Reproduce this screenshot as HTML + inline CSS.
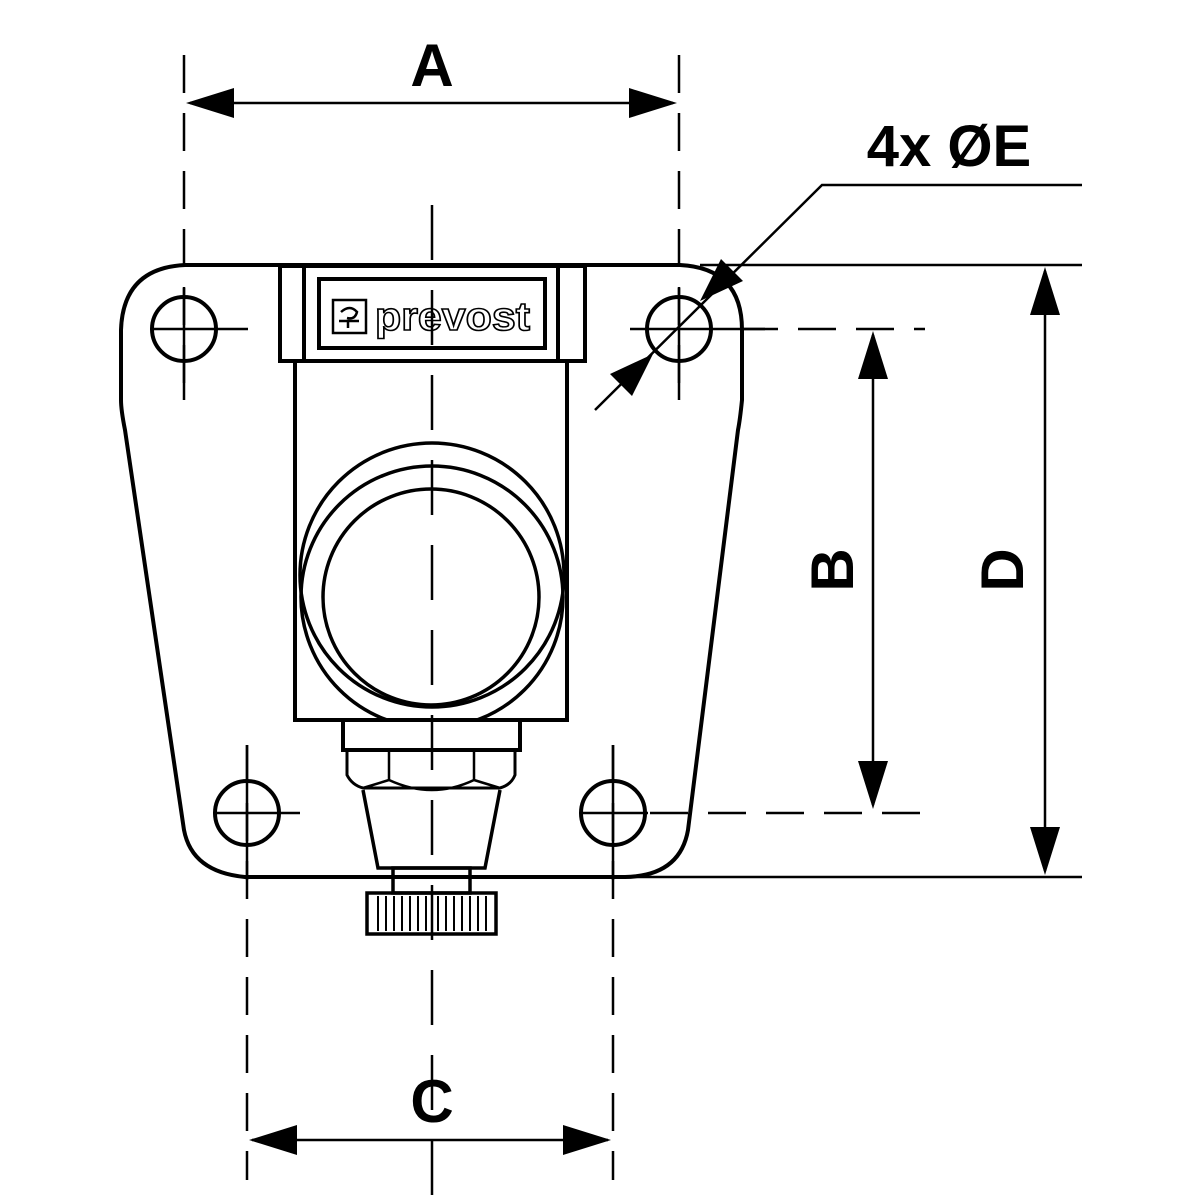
<!DOCTYPE html>
<html><head><meta charset="utf-8"><style>
html,body{margin:0;padding:0;background:#fff}
svg{display:block}
text{font-family:"Liberation Sans",sans-serif;font-weight:bold;fill:#000}
</style></head><body>
<svg width="1200" height="1200" viewBox="0 0 1200 1200" xmlns="http://www.w3.org/2000/svg">
<defs>
<clipPath id="body"><rect x="295" y="362" width="272" height="358"/></clipPath>
</defs>
<g fill="none" stroke="#000" stroke-width="4">
<path d="M185 265 L680 265 Q742 268 742 330 L742 400 Q740 420 738 430 L688 830 Q680 876 625 877 L245 877 Q192 872 184 830 L125 430 Q121 410 121 400 L121 330 Q123 268 185 265 Z"/>
<circle cx="184" cy="329" r="32"/>
<circle cx="679" cy="329" r="32"/>
<circle cx="247" cy="813" r="32"/>
<circle cx="613" cy="813" r="32"/>
<rect x="280" y="266" width="305" height="95" fill="#fff"/>
<line x1="304" y1="266" x2="304" y2="361"/>
<line x1="558" y1="266" x2="558" y2="361"/>
<rect x="319" y="279" width="226" height="69"/>
<path d="M295 361 L295 720 L567 720 L567 361"/>
<g clip-path="url(#body)" stroke-width="3.5">
<circle cx="432" cy="575" r="132"/>
<circle cx="432" cy="597" r="131"/>
</g>
<circle cx="431" cy="597" r="108" stroke-width="3.5"/>
<rect x="343" y="720" width="177" height="30"/>
<path d="M347 750 L347 775 Q352 785 363 788 L500 788 Q511 785 515 775 L515 750" stroke-width="3"/>
<path d="M389 750 L389 780 M474 750 L474 780 M389 780 Q432 800 474 780 M363 788 L389 780 M474 780 L500 788" stroke-width="2.5"/>
<path d="M363 790 L378 868 L485 868 L500 790" stroke-width="3.5"/>
<rect x="393" y="868" width="77" height="25" stroke-width="3.5"/>
<rect x="367" y="893" width="129" height="41" stroke-width="3.5"/>
</g>
<g stroke="#000" stroke-width="2">
<line x1="378" y1="896" x2="378" y2="931"/><line x1="386" y1="896" x2="386" y2="931"/><line x1="394" y1="896" x2="394" y2="931"/><line x1="402" y1="896" x2="402" y2="931"/><line x1="410" y1="896" x2="410" y2="931"/><line x1="418" y1="896" x2="418" y2="931"/><line x1="426" y1="896" x2="426" y2="931"/><line x1="438" y1="896" x2="438" y2="931"/><line x1="446" y1="896" x2="446" y2="931"/><line x1="454" y1="896" x2="454" y2="931"/><line x1="462" y1="896" x2="462" y2="931"/><line x1="470" y1="896" x2="470" y2="931"/><line x1="478" y1="896" x2="478" y2="931"/><line x1="486" y1="896" x2="486" y2="931"/>
</g>
<rect x="333" y="300" width="33" height="33" fill="none" stroke="#000" stroke-width="2.5"/>
<path d="M341 312 q9 -8 16 0 q-2 8 -10 6 M339 321 l20 0 M348 321 l0 7" fill="none" stroke="#000" stroke-width="2.5"/>
<text x="375" y="330" font-size="40" fill="#fff" stroke="#000" stroke-width="1.6" font-weight="bold" textLength="155" lengthAdjust="spacingAndGlyphs" style="fill:#fff">prevost</text>
<g stroke="#000" stroke-width="2.5" fill="none">
<line x1="184" y1="288" x2="184" y2="400"/><line x1="150" y1="329" x2="248" y2="329"/>
<line x1="679" y1="288" x2="679" y2="400"/><line x1="630" y1="329" x2="765" y2="329"/>
<line x1="247" y1="745" x2="247" y2="880"/><line x1="213" y1="813" x2="300" y2="813"/>
<line x1="613" y1="745" x2="613" y2="880"/><line x1="580" y1="813" x2="648" y2="813"/>
<line x1="432" y1="205" x2="432" y2="1195" stroke-dasharray="55,30"/>
<line x1="184" y1="55" x2="184" y2="400" stroke-dasharray="38,20"/>
<line x1="679" y1="55" x2="679" y2="400" stroke-dasharray="38,20"/>
<line x1="247" y1="745" x2="247" y2="1180" stroke-dasharray="38,20"/>
<line x1="613" y1="745" x2="613" y2="1180" stroke-dasharray="38,20"/>
<line x1="740" y1="329" x2="925" y2="329" stroke-dasharray="38,20"/>
<line x1="650" y1="813" x2="925" y2="813" stroke-dasharray="38,20"/>
<line x1="700" y1="265" x2="1082" y2="265"/>
<line x1="620" y1="877" x2="1082" y2="877"/>
<line x1="190" y1="103" x2="673" y2="103"/>
<line x1="252" y1="1140" x2="608" y2="1140"/>
<line x1="873" y1="335" x2="873" y2="805"/>
<line x1="1045" y1="271" x2="1045" y2="871"/>
<polyline points="1082,185 822,185 595,410"/>
</g>
<g fill="#000">
<polygon points="186,103 234,88 234,118"/>
<polygon points="677,103 629,88 629,118"/>
<polygon points="249,1140 297,1125 297,1155"/>
<polygon points="611,1140 563,1125 563,1155"/>
<polygon points="873,331 858,379 888,379"/>
<polygon points="873,809 858,761 888,761"/>
<polygon points="1045,267 1030,315 1060,315"/>
<polygon points="1045,875 1030,827 1060,827"/>
<polygon points="700,301 743,281 721,259"/>
<polygon points="653,354 610,374 632,396"/>
</g>
<text x="432" y="86" font-size="60" text-anchor="middle">A</text>
<text x="432" y="1122" font-size="60" text-anchor="middle">C</text>
<text x="949" y="166" font-size="58" text-anchor="middle">4x ØE</text>
<text transform="translate(853,570) rotate(-90)" font-size="60" text-anchor="middle">B</text>
<text transform="translate(1023,570) rotate(-90)" font-size="60" text-anchor="middle">D</text>
</svg>
</body></html>
